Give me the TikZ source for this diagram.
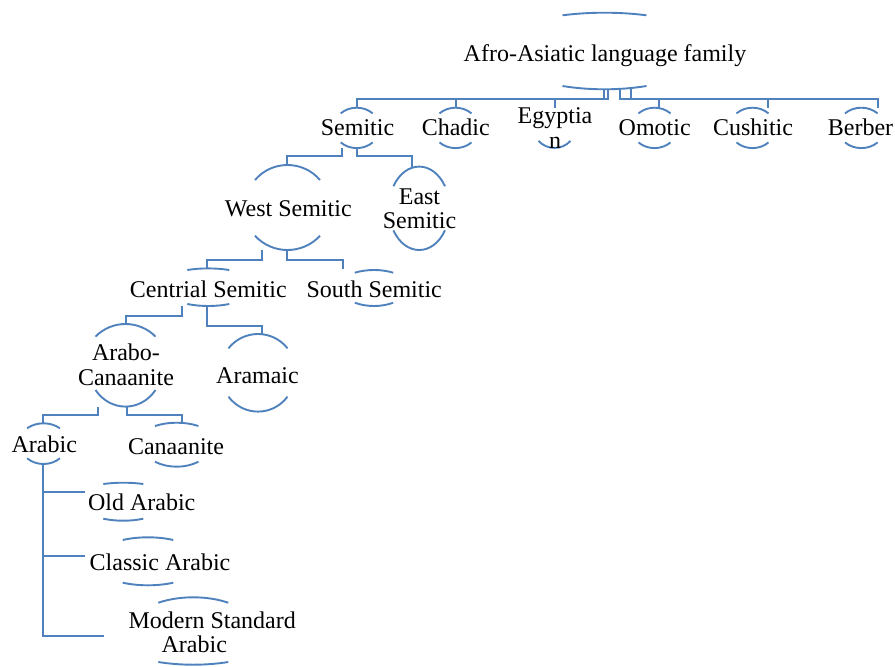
\documentclass[tikz,border=0pt]{standalone}
\usepackage{fontspec}
\setmainfont{Liberation Serif}
\definecolor{lnblue}{RGB}{79,129,189}
\tikzset{
  conn/.style={draw=lnblue, line width=2pt},
  arcline/.style={draw=lnblue, line width=1.9pt},
  lbl/.style={font=\fontsize{24}{24.5}\selectfont, inner sep=0pt, anchor=base, align=center, text=black},
}
% one arc: cx, cy, half chord, end offset, peak offset (signed: positive = above)
\newcommand\halfarc[5]{%
  \pgfmathsetmacro\arcT{acos((#4)/(#5))}%
  \pgfmathsetmacro\arcS{sin(\arcT)}%
  \pgfmathsetmacro\arcC{cos(\arcT)}%
  \pgfmathsetmacro\arcA{(#3)/\arcS}%
  \pgfmathsetmacro\arcK{4/3*tan(\arcT/2)}%
  \pgfmathsetmacro\arcDX{\arcA*\arcK*\arcC}%
  \pgfmathsetmacro\arcDY{(#5)*\arcK*\arcS}%
  \draw[arcline] ({#1-(#3)},{#2-(#4)}) .. controls ({#1-(#3)+\arcDX},{#2-(#4)-\arcDY}) and ({#1+(#3)-\arcDX},{#2-(#4)-\arcDY}) .. ({#1+(#3)},{#2-(#4)});%
}
% both arcs: cx, cy, w, top end, top peak, bottom end, bottom peak
\newcommand\nodearcs[7]{\halfarc{#1}{#2}{#3}{#4}{#5}\halfarc{#1}{#2}{#3}{-#6}{-#7}}
\begin{document}
\begin{tikzpicture}[x=1pt,y=-1pt]
\useasboundingbox (0,0) rectangle (895,667);

% ---------- arcs ----------
\nodearcs{604.5}{51}{42}{35.7}{38.3}{35}{38.3}
\nodearcs{356.7}{127.9}{16}{14.5}{20.2}{14.5}{20.2}
\nodearcs{455.5}{127.9}{16}{14.5}{20.2}{14.5}{20.2}
\halfarc{554.5}{127.9}{16}{-13}{-20}
\nodearcs{654.5}{127.9}{16}{14.5}{20.2}{14.5}{20.2}
\nodearcs{752.5}{127.9}{16}{14.5}{20.2}{14.5}{20.2}
\nodearcs{861.3}{127.9}{16.3}{14.5}{20.2}{14.5}{20.2}
\nodearcs{287.5}{207.5}{32.5}{27.5}{42.5}{28.2}{42.5}
\nodearcs{419.2}{208.3}{25.8}{22}{41.7}{22}{41.7}
\nodearcs{208.3}{287.2}{21}{17.2}{18.8}{16.8}{18.8}
\nodearcs{374}{288}{19.2}{15.3}{18}{14.7}{18}
\nodearcs{125.5}{365.3}{30}{28.7}{41.3}{24.7}{41.3}
\nodearcs{258}{372.8}{29.5}{24.5}{38.8}{23.9}{38.8}
\nodearcs{43.5}{443.7}{16.4}{15.4}{20.4}{14.6}{20.3}
\nodearcs{176.7}{444.7}{21.7}{18.7}{22}{17}{22}
\nodearcs{123.3}{501.7}{20}{17.7}{19}{17}{19}
\nodearcs{148}{561.3}{25.3}{21.3}{24}{21.4}{24}
\nodearcs{193.3}{631}{35}{28.3}{33.7}{31}{33.7}

% ---------- texts (anchor = baseline of the last line) ----------
\node[lbl] (root) at (605,61) {Afro-Asiatic language family};
\node[lbl] (semitic) at (357.5,135.5) {Semitic};
\node[lbl] (chadic) at (455.8,135.5) {Chadic};
\node[lbl] (egypt) at (555,148) {Egyptia\\n};
\node[lbl] (omotic) at (654.7,135.5) {Omotic};
\node[lbl] (cush) at (753,135.5) {Cushitic};
\node[lbl] (berber) at (860.5,135.5) {Berber};
\node[lbl] (wsem) at (288.3,216) {West Semitic};
\node[lbl] (esem) at (419.5,228.5) {East\\Semitic};
\node[lbl] (csem) at (208.3,297.5) {Centrial Semitic};
\node[lbl] (ssem) at (374.2,297.5) {South Semitic};
\node[lbl] (arcan) at (126,385) {Arabo-\\Canaanite};
\node[lbl] (aram) at (257.5,383.5) {Aramaic};
\node[lbl] (arabic) at (44.3,452.5) {Arabic};
\node[lbl] (canaan) at (176,454) {Canaanite};
\node[lbl] (oldar) at (141.7,510) {Old Arabic};
\node[lbl] (clsar) at (160,570) {Classic Arabic};
\node[lbl] (msa) at (212.2,628) {Modern Standard};
\node[lbl] (msa2) at (194.3,652.5) {Arabic};

% ---------- connector points ----------
\coordinate (root-o1) at (604,89);
\coordinate (root-o2) at (608,89);
\coordinate (root-o3) at (620,89);
\coordinate (root-o4) at (631,89);
\coordinate (bus1) at (0,99);
\coordinate (semitic-i) at (357,108);
\coordinate (chadic-i) at (456,108);
\coordinate (egypt-i) at (555,108);
\coordinate (omotic-i) at (659,108);
\coordinate (cush-i) at (768,108);
\coordinate (berber-i) at (878,108);

\coordinate (semitic-o1) at (342,148);
\coordinate (semitic-o2) at (357,148);
\coordinate (bus2) at (0,156);
\coordinate (wsem-i) at (287,165);
\coordinate (esem-i) at (412,167);

\coordinate (wsem-o1) at (262,250);
\coordinate (wsem-o2) at (287,250);
\coordinate (bus3) at (0,260);
\coordinate (csem-i) at (207,268);
\coordinate (ssem-i) at (343,269);

\coordinate (csem-o1) at (182,306);
\coordinate (csem-o2) at (207,306);
\coordinate (bus4a) at (0,316);
\coordinate (bus4b) at (0,326);
\coordinate (arcan-i) at (126,324);
\coordinate (aram-i) at (262,334);

\coordinate (arcan-o1) at (98,407);
\coordinate (arcan-o2) at (127,407);
\coordinate (bus5) at (0,415);
\coordinate (arabic-i) at (43,423);
\coordinate (canaan-i) at (182,423);

\coordinate (arabic-o) at (43,464);
\coordinate (oldar-i) at (85,492);
\coordinate (clsar-i) at (85,556);
\coordinate (msa-i) at (104,636);

% ---------- connectors ----------
\draw[conn] (root-o1) -- (root-o1 |- bus1) -| (semitic-i);
\draw[conn] (root-o1) -- (root-o1 |- bus1) -| (chadic-i);
\draw[conn] (root-o2) -- (root-o2 |- bus1) -| (egypt-i);
\draw[conn] (root-o3) -- (root-o3 |- bus1) -| (omotic-i);
\draw[conn] (root-o4) -- (root-o4 |- bus1) -| (cush-i);
\draw[conn] (root-o4) -- (root-o4 |- bus1) -| (berber-i);

\draw[conn] (semitic-o1) -- (semitic-o1 |- bus2) -| (wsem-i);
\draw[conn] (semitic-o2) -- (semitic-o2 |- bus2) -| (esem-i);

\draw[conn] (wsem-o1) -- (wsem-o1 |- bus3) -| (csem-i);
\draw[conn] (wsem-o2) -- (wsem-o2 |- bus3) -| (ssem-i);

\draw[conn] (csem-o1) -- (csem-o1 |- bus4a) -| (arcan-i);
\draw[conn] (csem-o2) -- (csem-o2 |- bus4b) -| (aram-i);

\draw[conn] (arcan-o1) -- (arcan-o1 |- bus5) -| (arabic-i);
\draw[conn] (arcan-o2) -- (arcan-o2 |- bus5) -| (canaan-i);

\draw[conn] (arabic-o) |- (oldar-i);
\draw[conn] (arabic-o) |- (clsar-i);
\draw[conn] (arabic-o) |- (msa-i);
\end{tikzpicture}
\end{document}
